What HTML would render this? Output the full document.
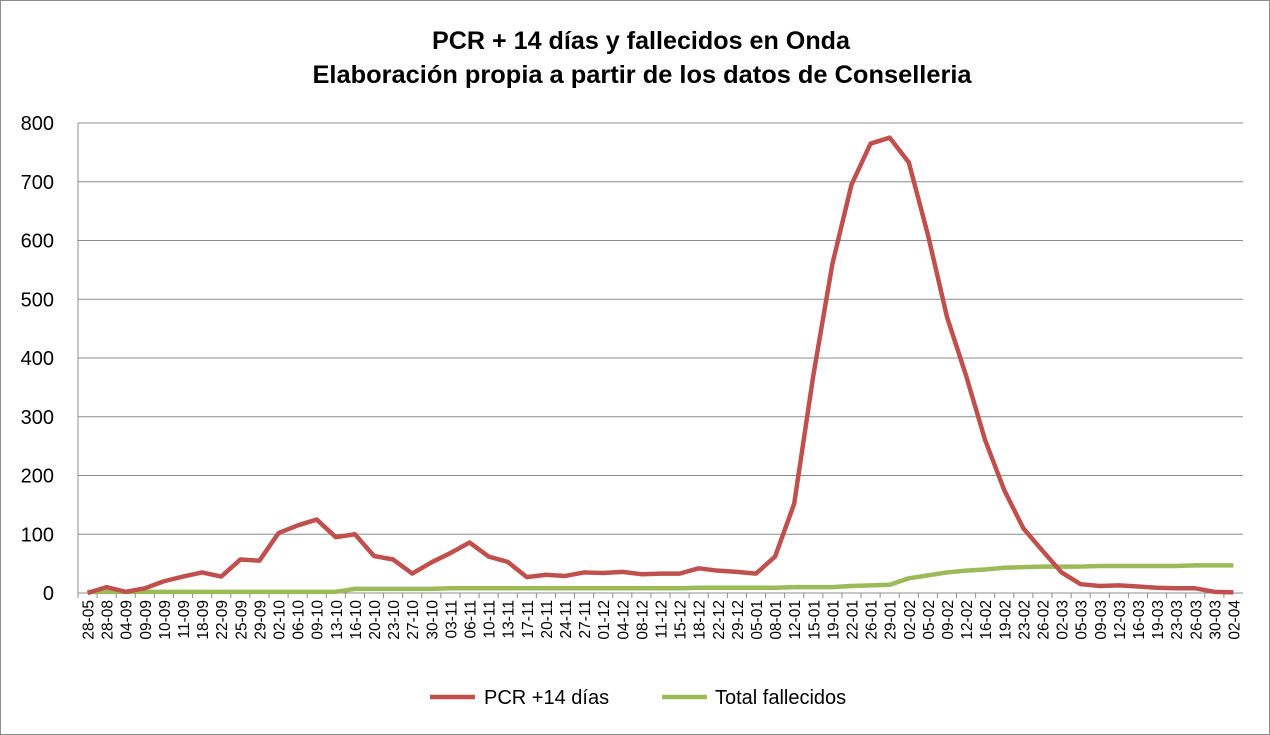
<!DOCTYPE html>
<html><head><meta charset="utf-8"><style>
html,body{margin:0;padding:0;background:#fff}
svg{display:block;font-family:"Liberation Sans",sans-serif}
</style></head><body>
<svg id="c" width="1270" height="735" viewBox="0 0 1270 735" xmlns="http://www.w3.org/2000/svg">
<rect x="0.5" y="0.5" width="1269" height="734" fill="#fff" stroke="#8c8c8c"/>
<text x="641" y="49" text-anchor="middle" font-size="25" font-weight="bold" fill="#000" textLength="418" lengthAdjust="spacingAndGlyphs">PCR + 14 días y fallecidos en Onda</text>
<text x="642" y="83" text-anchor="middle" font-size="25" font-weight="bold" fill="#000" textLength="659" lengthAdjust="spacingAndGlyphs">Elaboración propia a partir de los datos de Conselleria</text>
<g id="grid"></g>
<g id="lab"></g>
<polyline id="g" fill="none" stroke="#9bbb59" stroke-width="4.5" stroke-linejoin="round"/>
<polyline id="r" fill="none" stroke="#c0504d" stroke-width="4.5" stroke-linejoin="round"/>
<line x1="430" y1="697" x2="475" y2="697" stroke="#c0504d" stroke-width="4.5"/>
<text x="484" y="704" font-size="20">PCR +14 días</text>
<line x1="662" y1="697" x2="707" y2="697" stroke="#9bbb59" stroke-width="4.5"/>
<text x="715" y="704" font-size="20">Total fallecidos</text>
</svg>
<script>
var L="28-05,28-08,04-09,09-09,10-09,11-09,18-09,22-09,25-09,29-09,02-10,06-10,09-10,13-10,16-10,20-10,23-10,27-10,30-10,03-11,06-11,10-11,13-11,17-11,20-11,24-11,27-11,01-12,04-12,08-12,11-12,15-12,18-12,22-12,29-12,05-01,08-01,12-01,15-01,19-01,22-01,26-01,29-01,02-02,05-02,09-02,12-02,16-02,19-02,23-02,26-02,02-03,05-03,09-03,12-03,16-03,19-03,23-03,26-03,30-03,02-04".split(",");
var R=[0,10,2,5,8,20,28,35,28,57,55,102,115,125,95,100,63,57,33,52,68,86,62,53,27,31,29,35,34,36,32,33,33,42,38,36,33,62,152,370,560,695,765,775,733,610,470,370,260,175,110,72,35,15,12,13,11,9,8,8,2,1];
R.splice(3,1);
var G=[];for(var i=0;i<61;i++){var v=2;if(i>=14)v=7;if(i>=19)v=8;if(i>=32)v=9;if(i>=37)v=10;G.push(v);}
var gv={40:12,41:13,42:14,43:25,44:30,45:35,46:38,47:40,48:43,49:44,50:45,51:45,52:45,53:46,54:46,55:46,56:46,57:46,58:47,59:47,60:47};
for(var k in gv)G[k]=gv[k];
var x0=78,x1=1243,y0=593,y1=123,n=61,w=(x1-x0)/n;
function X(i){return x0+w*(i+0.5)}function Y(v){return y0-(y0-y1)*v/800}
var ns="http://www.w3.org/2000/svg",grid=document.getElementById("grid"),lab=document.getElementById("lab");
function el(t,a,p,tx){var e=document.createElementNS(ns,t);for(var q in a)e.setAttribute(q,a[q]);if(tx!=null)e.textContent=tx;p.appendChild(e);return e}
for(var v=100;v<=800;v+=100)el("line",{x1:x0,x2:x1,y1:Y(v),y2:Y(v),stroke:"#8c8c8c","stroke-width":1},grid);
el("line",{x1:x0,x2:x0,y1:y1,y2:y0,stroke:"#8c8c8c"},grid);
el("line",{x1:x0,x2:x1,y1:y0,y2:y0,stroke:"#8c8c8c"},grid);
for(var v=0;v<=800;v+=100)el("text",{x:54,y:Y(v)+7,"text-anchor":"end","font-size":20},lab,String(v));
for(var i=0;i<n;i++){el("line",{x1:x0+w*i,x2:x0+w*i,y1:y0,y2:y0+5,stroke:"#8c8c8c"},grid);
el("text",{x:0,y:0,"text-anchor":"end","font-size":15.5,transform:"translate("+(X(i)+6)+",600) rotate(-90)"},lab,L[i]);}
document.getElementById("r").setAttribute("points",R.map(function(v,i){return X(i)+","+Y(v)}).join(" "));
document.getElementById("g").setAttribute("points",G.map(function(v,i){return X(i)+","+Y(v)}).join(" "));
</script>
</body></html>
